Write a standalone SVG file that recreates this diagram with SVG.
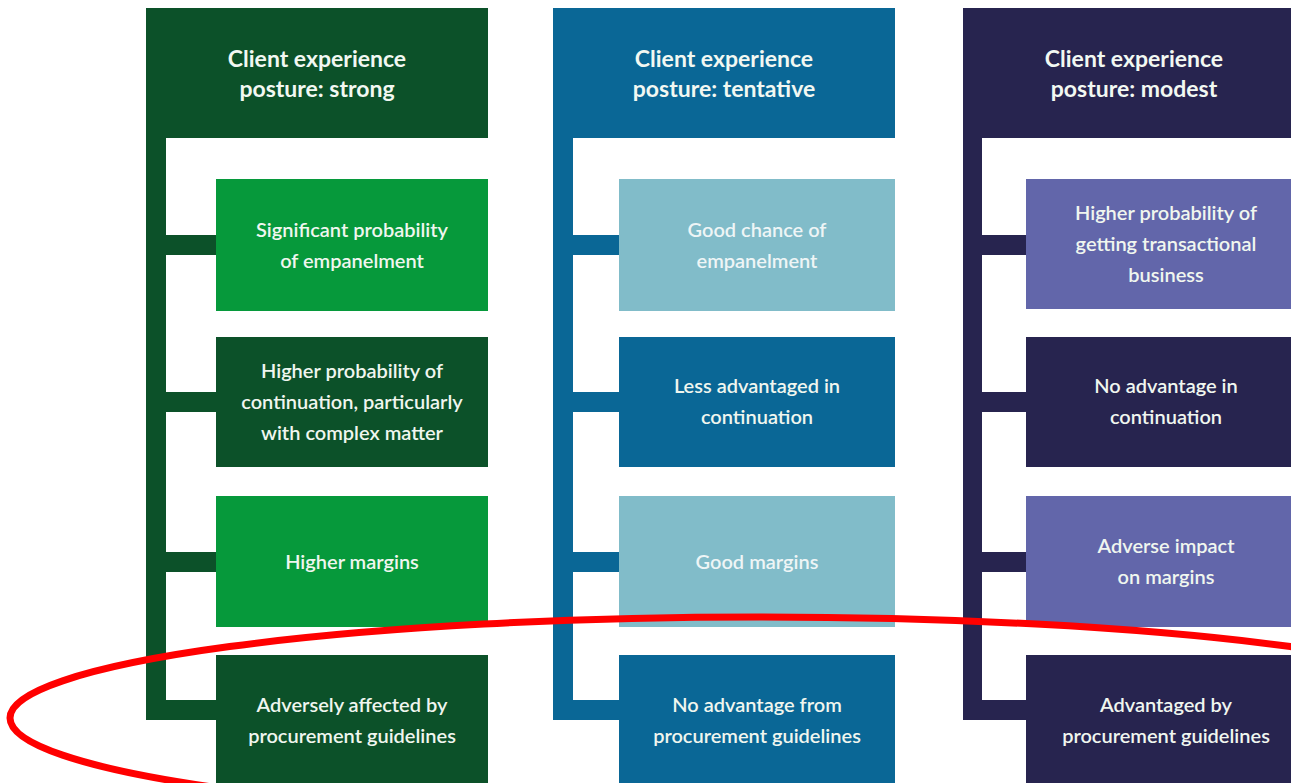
<svg xmlns="http://www.w3.org/2000/svg" width="1291" height="783" viewBox="0 0 1291 783">
  <style>
    .hd { font-family: Lato, "Liberation Sans", sans-serif; font-weight: 700; font-size: 23px; fill: #f2f8f2; text-anchor: middle; }
    .tx { font-family: Lato, "Liberation Sans", sans-serif; font-weight: 600; font-size: 20px; fill: #f0f6ef; text-anchor: middle; }
    .txl { fill: #eef5f6; }
    .g-dark { fill: #0c5129; }
    .g-light { fill: #06993b; }
    .b-dark { fill: #0a6796; }
    .b-light { fill: #81bcc9; }
    .n-dark { fill: #27244f; }
    .n-light { fill: #6266aa; }
    .mark { fill: none; stroke: #ff0000; stroke-width: 7; }
  </style>

  <rect x="0" y="0" width="1291" height="783" fill="#ffffff"/>

  <!-- spines and branch connectors -->
  <g id="connectors">
    <!-- strong -->
    <rect class="g-dark" x="146" y="130" width="20" height="590"/>
    <rect class="g-dark" x="146" y="235" width="72" height="20"/>
    <rect class="g-dark" x="146" y="392" width="72" height="20"/>
    <rect class="g-dark" x="146" y="552" width="72" height="20"/>
    <rect class="g-dark" x="146" y="700" width="72" height="20"/>
    <!-- tentative -->
    <rect class="b-dark" x="553" y="130" width="20" height="590"/>
    <rect class="b-dark" x="553" y="235" width="68" height="20"/>
    <rect class="b-dark" x="553" y="392" width="68" height="20"/>
    <rect class="b-dark" x="553" y="552" width="68" height="20"/>
    <rect class="b-dark" x="553" y="700" width="68" height="20"/>
    <!-- modest -->
    <rect class="n-dark" x="963" y="130" width="19" height="590"/>
    <rect class="n-dark" x="963" y="235" width="65" height="20"/>
    <rect class="n-dark" x="963" y="392" width="65" height="20"/>
    <rect class="n-dark" x="963" y="552" width="65" height="20"/>
    <rect class="n-dark" x="963" y="700" width="65" height="20"/>
  </g>

  <!-- column: strong -->
  <g id="strong-header">
    <rect class="g-dark" x="146" y="8" width="342" height="130"/>
    <text class="hd" x="317" y="67">Client experience</text>
    <text class="hd" x="317" y="97">posture: strong</text>
  </g>
  <g id="strong-empanelment">
    <rect class="g-light" x="216" y="179" width="272" height="132"/>
    <text class="tx" x="352" y="237">Significant probability</text>
    <text class="tx" x="352" y="268">of empanelment</text>
  </g>
  <g id="strong-continuation">
    <rect class="g-dark" x="216" y="337" width="272" height="130"/>
    <text class="tx" x="352" y="378">Higher probability of</text>
    <text class="tx" x="352" y="409">continuation, particularly</text>
    <text class="tx" x="352" y="440">with complex matter</text>
  </g>
  <g id="strong-margins">
    <rect class="g-light" x="216" y="496" width="272" height="131"/>
    <text class="tx" x="352" y="569">Higher margins</text>
  </g>
  <g id="strong-procurement">
    <rect class="g-dark" x="216" y="655" width="272" height="140"/>
    <text class="tx" x="352" y="712">Adversely affected by</text>
    <text class="tx" x="352" y="743">procurement guidelines</text>
  </g>

  <!-- column: tentative -->
  <g id="tentative-header">
    <rect class="b-dark" x="553" y="8" width="342" height="130"/>
    <text class="hd" x="724" y="67">Client experience</text>
    <text class="hd" x="724" y="97">posture: tentative</text>
  </g>
  <g id="tentative-empanelment">
    <rect class="b-light" x="619" y="179" width="276" height="132"/>
    <text class="tx txl" x="757" y="237">Good chance of</text>
    <text class="tx txl" x="757" y="268">empanelment</text>
  </g>
  <g id="tentative-continuation">
    <rect class="b-dark" x="619" y="337" width="276" height="130"/>
    <text class="tx" x="757" y="393">Less advantaged in</text>
    <text class="tx" x="757" y="424">continuation</text>
  </g>
  <g id="tentative-margins">
    <rect class="b-light" x="619" y="496" width="276" height="131"/>
    <text class="tx txl" x="757" y="569">Good margins</text>
  </g>
  <g id="tentative-procurement">
    <rect class="b-dark" x="619" y="655" width="276" height="140"/>
    <text class="tx" x="757" y="712">No advantage from</text>
    <text class="tx" x="757" y="743">procurement guidelines</text>
  </g>

  <!-- column: modest -->
  <g id="modest-header">
    <rect class="n-dark" x="963" y="8" width="342" height="130"/>
    <text class="hd" x="1134" y="67">Client experience</text>
    <text class="hd" x="1134" y="97">posture: modest</text>
  </g>
  <g id="modest-transactional">
    <rect class="n-light" x="1026" y="179" width="280" height="130"/>
    <text class="tx" x="1166" y="220">Higher probability of</text>
    <text class="tx" x="1166" y="251">getting transactional</text>
    <text class="tx" x="1166" y="282">business</text>
  </g>
  <g id="modest-continuation">
    <rect class="n-dark" x="1026" y="337" width="280" height="130"/>
    <text class="tx" x="1166" y="393">No advantage in</text>
    <text class="tx" x="1166" y="424">continuation</text>
  </g>
  <g id="modest-margins">
    <rect class="n-light" x="1026" y="496" width="280" height="131"/>
    <text class="tx" x="1166" y="553">Adverse impact</text>
    <text class="tx" x="1166" y="584">on margins</text>
  </g>
  <g id="modest-procurement">
    <rect class="n-dark" x="1026" y="655" width="280" height="140"/>
    <text class="tx" x="1166" y="712">Advantaged by</text>
    <text class="tx" x="1166" y="743">procurement guidelines</text>
  </g>

  <!-- red highlight ring around the procurement row -->
  <ellipse class="mark" cx="760" cy="718" rx="750" ry="101"/>
</svg>
